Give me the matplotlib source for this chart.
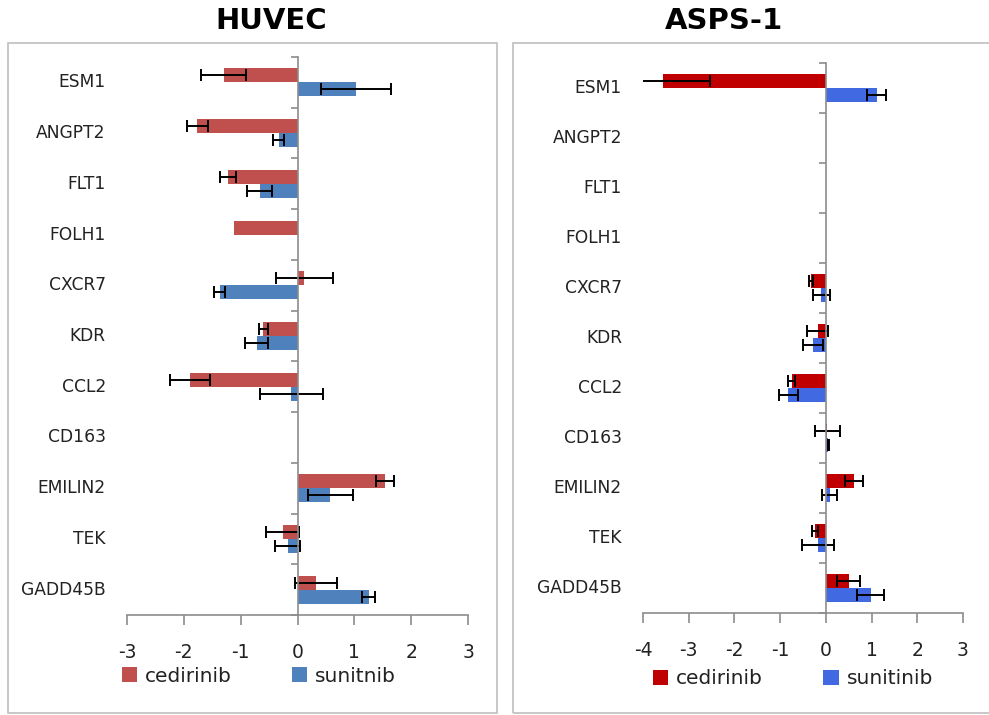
import numpy as np
import matplotlib
matplotlib.use('Agg')
import matplotlib.pyplot as plt
from matplotlib.patches import Rectangle

plt.rcParams['font.family'] = ['DejaVu Sans']

# ---------------- data ----------------
genes = ['ESM1', 'ANGPT2', 'FLT1', 'FOLH1', 'CXCR7', 'KDR', 'CCL2', 'CD163', 'EMILIN2', 'TEK', 'GADD45B']

# HUVEC (nan = no bar / no error bar)
huvec_ced = [-1.30, -1.76, -1.23, -1.12, 0.12, -0.60, -1.89, np.nan, 1.54, -0.26, 0.32]
huvec_ced_err = [0.39, 0.19, 0.14, np.nan, 0.50, 0.08, 0.35, np.nan, 0.15, 0.29, 0.37]
huvec_sun = [1.03, -0.33, -0.66, np.nan, -1.37, -0.72, -0.11, np.nan, 0.58, -0.17, 1.25]
huvec_sun_err = [0.62, 0.10, 0.22, np.nan, 0.10, 0.20, 0.55, np.nan, 0.40, 0.22, 0.12]

# ASPS-1
asps_ced = [-3.57, np.nan, np.nan, np.nan, -0.33, -0.18, -0.75, 0.03, 0.61, -0.24, 0.50]
asps_ced_err = [1.03, np.nan, np.nan, np.nan, 0.04, 0.23, 0.08, 0.27, 0.20, 0.07, 0.25]
asps_sun = [1.11, np.nan, np.nan, np.nan, -0.10, -0.28, -0.82, 0.05, 0.08, -0.17, 0.98]
asps_sun_err = [0.20, np.nan, np.nan, np.nan, 0.18, 0.22, 0.20, 0.01, 0.16, 0.35, 0.30]


def draw_panel(ax, ced, ced_err, sun, sun_err, c1, c2, xlim, xticks, lab_off):
    y = np.arange(len(genes))
    h = 0.275
    ekw = dict(ecolor='black', elinewidth=1.4, capsize=4, capthick=1.4)
    b1 = ax.barh(y - h / 2, np.nan_to_num(ced), height=h, color=c1,
                 xerr=ced_err, error_kw=ekw, zorder=2)
    b2 = ax.barh(y + h / 2, np.nan_to_num(sun), height=h, color=c2,
                 xerr=sun_err, error_kw=ekw, zorder=2)
    ax.set_xlim(*xlim)
    ax.set_ylim(len(genes) - 0.5, -0.5)
    ax.set_xticks(xticks)
    ax.set_xticklabels([str(t) for t in xticks])
    ax.tick_params(axis='x', direction='out', length=7, width=1.2, color='#8C8C8C',
                   labelsize=13.5, pad=13, labelcolor='#222222')
    # y axis at x=0 with ticks between categories
    ax.spines['left'].set_position(('data', 0))
    ax.set_yticks(np.arange(-0.5, len(genes), 1.0))
    ax.set_yticklabels([])
    ax.tick_params(axis='y', direction='out', length=5, width=1.2, color='#8C8C8C')
    for s in ['top', 'right']:
        ax.spines[s].set_visible(False)
    for s in ['left', 'bottom']:
        ax.spines[s].set_color('#8C8C8C')
        ax.spines[s].set_linewidth(1.2)
    for i, g in enumerate(genes):
        ax.text(lab_off, i, g, transform=ax.get_yaxis_transform(), ha='right', va='center',
                fontsize=12.3, color='#222222')
    return b1, b2


fig = plt.figure(figsize=(9.89, 7.15), dpi=100)

# panel frames
fig.patches.append(Rectangle((8 / 989, 2 / 715), 489 / 989, 670 / 715, transform=fig.transFigure,
                             fill=False, edgecolor='#BFBFBF', linewidth=1.2))
fig.patches.append(Rectangle((513 / 989, 2 / 715), 490 / 989, 670 / 715, transform=fig.transFigure,
                             fill=False, edgecolor='#BFBFBF', linewidth=1.2))

ax1 = fig.add_axes([127 / 989, 100 / 715, 341 / 989, 558 / 715])
ax2 = fig.add_axes([643 / 989, 102 / 715, 320 / 989, 550 / 715])

h1 = draw_panel(ax1, huvec_ced, huvec_ced_err, huvec_sun, huvec_sun_err,
                '#C0504D', '#4F81BD', (-3, 3), [-3, -2, -1, 0, 1, 2, 3], -0.062)
h2 = draw_panel(ax2, asps_ced, asps_ced_err, asps_sun, asps_sun_err,
                '#C00000', '#4169E1', (-4, 3), [-4, -3, -2, -1, 0, 1, 2, 3], -0.066)

fig.text(271 / 989, 1 - 21 / 715, 'HUVEC', ha='center', va='center', fontsize=21, fontweight='bold')
fig.text(724 / 989, 1 - 21 / 715, 'ASPS-1', ha='center', va='center', fontsize=21, fontweight='bold')

lkw = dict(loc='center', ncol=2, frameon=False, fontsize=14.5, handlelength=0.75, handleheight=0.75,
           handletextpad=0.4, columnspacing=3.0, borderpad=0, labelcolor='#222222')
fig.legend(h1, ['cedirinib', 'sunitnib'], bbox_to_anchor=(259 / 989, 1 - 676 / 715), **lkw)
fig.legend(h2, ['cedirinib', 'sunitinib'], bbox_to_anchor=(793 / 989, 1 - 679 / 715), **lkw)

fig.savefig('out.png', dpi=100)
